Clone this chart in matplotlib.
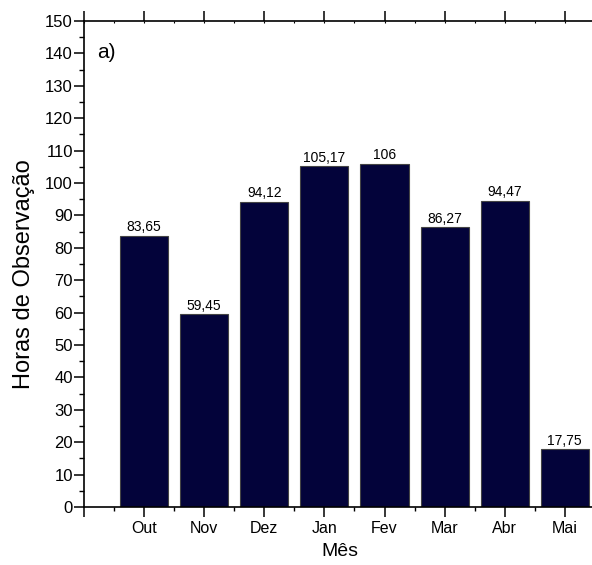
import matplotlib.pyplot as plt
from matplotlib.ticker import MultipleLocator

months = ["Out", "Nov", "Dez", "Jan", "Fev", "Mar", "Abr", "Mai"]
horas = [83.65, 59.45, 94.12, 105.17, 106, 86.27, 94.47, 17.75]
rotulos = ["83,65", "59,45", "94,12", "105,17", "106", "86,27", "94,47", "17,75"]

plt.rcParams['font.family'] = ['Liberation Sans', 'DejaVu Sans']

fig = plt.figure(figsize=(5.92, 5.65), dpi=100)
# axes run a bit past the right edge of the picture, like the original
ax = fig.add_axes([84/592, 58/565, 8.5*60.1/592, 486/565])

pos = list(range(1, len(months)+1))
bars = ax.bar(pos, horas, width=0.8, color='#03033a', edgecolor='#444444', linewidth=0.8, zorder=2)

for p, h, r in zip(pos, horas, rotulos):
    ax.text(p, h + 0.5, r, ha='center', va='bottom', fontsize=10)

ax.set_xlim(0, 8.5)
ax.set_ylim(0, 150)
ax.xaxis.set_minor_locator(MultipleLocator(0.5))
ax.yaxis.set_major_locator(MultipleLocator(10))
ax.yaxis.set_minor_locator(MultipleLocator(5))
ax.set_xticks(range(0, 9))
ax.set_xticklabels([""] + months)

for s in ax.spines.values():
    s.set_linewidth(1.2)
ax.spines['right'].set_visible(False)

ax.tick_params(axis='y', which='major', direction='out', length=7, width=1.1, labelsize=12, pad=1)
ax.tick_params(axis='y', which='minor', direction='out', length=3.5, width=1.0)
ax.tick_params(axis='x', which='major', direction='out', length=7, width=1.1, labelsize=11.5,
               top=True, pad=3)
ax.tick_params(axis='x', which='minor', direction='out', length=3, width=1.0, top=False)
# little minor ticks on the top axis
ax2 = ax.secondary_xaxis('top')
ax2.set_xticks([])
ax2.xaxis.set_minor_locator(MultipleLocator(0.5))
ax2.tick_params(which='minor', direction='in', length=1.5, width=0.8)
ax2.spines['top'].set_visible(False)

ax.set_ylabel("Horas de Observação", fontsize=17)
ax.yaxis.set_label_coords(-0.096, 0.48)
ax.set_xlabel("Mês", fontsize=14, labelpad=5)
ax.text(0.025, 0.955, "a)", transform=ax.transAxes, fontsize=15, ha='left', va='top')

fig.savefig("out.png", dpi=100)
